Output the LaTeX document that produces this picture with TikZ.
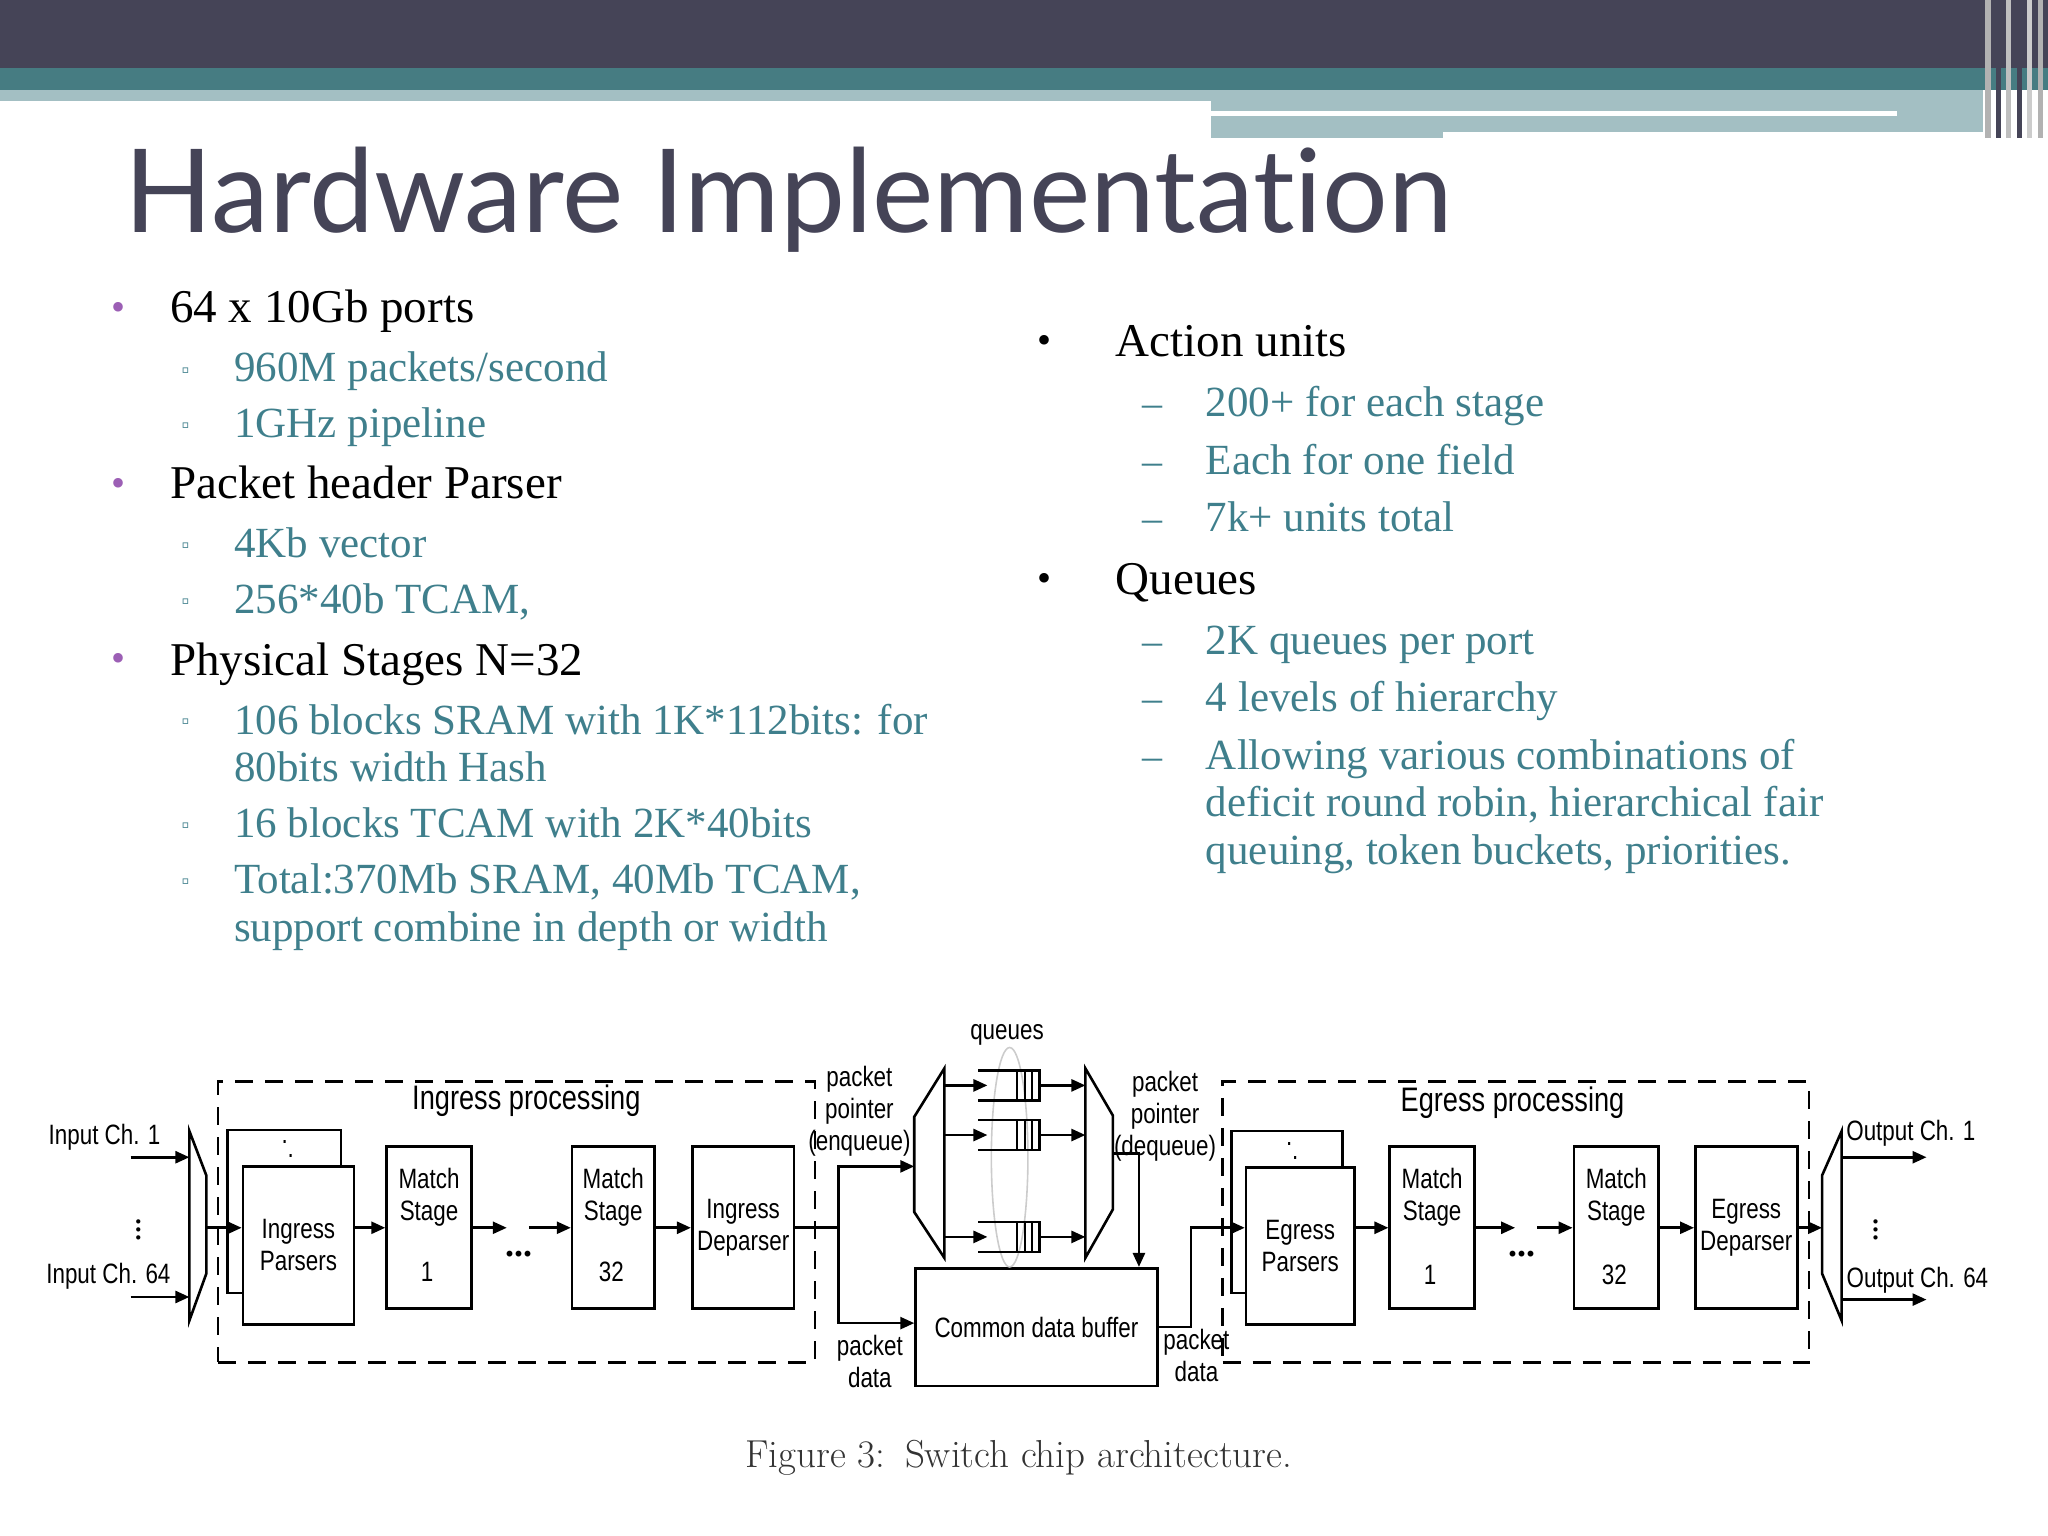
\documentclass[tikz,border=0pt]{standalone}
\usepackage{fontspec}
\setmainfont{Liberation Serif}
\newfontfamily\titlefont{Lato}[Ligatures=NoCommon]
\newfontfamily\figfont{Liberation Sans}[FakeStretch=0.8]
\usetikzlibrary{arrows.meta}
\definecolor{slatedark}{HTML}{454457}
\definecolor{tealband}{HTML}{467C82}
\definecolor{tealpale}{HTML}{A3BFC3}
\definecolor{subtext}{HTML}{3F7F8C}
\definecolor{dotpurple}{HTML}{9C5FB5}
\begin{document}
\begin{tikzpicture}[x=0.653pt, y=-0.653pt,
  main/.style={anchor=base west, inner sep=0pt, font=\fontsize{23.5}{26}\selectfont},
  sub/.style={anchor=base west, inner sep=0pt, text=subtext, font=\fontsize{21.5}{24}\selectfont},
  dot/.style={anchor=base, inner sep=0pt, text=dotpurple, font=\fontsize{20}{24}\selectfont},
  sq/.style={anchor=base, inner sep=0pt, text=subtext, font=\fontsize{11}{12}\selectfont},
  dashmark/.style={anchor=base, inner sep=0pt, text=subtext, font=\fontsize{20}{24}\selectfont},
  fig/.style={inner sep=0pt, align=center, font=\figfont\fontsize{14}{16}\selectfont},
  head/.style={fill=white, inner sep=1pt, font=\figfont\fontsize{17}{19}\selectfont},
  blk/.style={draw, line width=1.3pt, fill=white},
  ln/.style={line width=1.3pt},
  arr/.style={line width=1.3pt, -{Triangle[length=7pt,width=6pt]}},
  dbox/.style={draw, line width=1.3pt, dash pattern=on 9pt off 6pt}]
\useasboundingbox (0,0) rectangle (1568,1176);
% header bands
\fill[slatedark] (0,0) rectangle (1568,52);
\fill[tealband] (0,52) rectangle (1568,69);
\fill[tealpale] (0,69) rectangle (927,77);
\fill[tealpale] (927,69) rectangle (1518,101);
\fill[tealpale] (927,101) rectangle (1105,106);
\fill[white] (927,85) rectangle (1452,89);
\foreach \xx/\cc in {1520/gray!60,1528/slatedark,1536/gray!50,1544/slatedark,1552/gray!40,1560/gray!60}
  \fill[\cc] (\xx,0) rectangle ++(4,106);
% title
\node[anchor=base west, inner sep=0pt, text=slatedark, font=\titlefont\fontsize{58}{60}\selectfont] (title) at (95,178) {Hardware Implementation};
% left column
\node[dot] (d1) at (91,245) {•}; \node[main] (t1) at (130,247) {64 x 10Gb ports};
\node[sq] (s1) at (142,289) {▫}; \node[sub] (t1a) at (179,292) {960M packets/second};
\node[sq] (s2) at (142,331) {▫}; \node[sub] (t1b) at (179,335) {1GHz pipeline};
\node[dot] (d2) at (91,380) {•}; \node[main] (t2) at (130,382) {Packet header Parser};
\node[sq] (s3) at (142,423) {▫}; \node[sub] (t2a) at (179,427) {4Kb vector};
\node[sq] (s4) at (142,466) {▫}; \node[sub] (t2b) at (179,470) {256*40b TCAM,};
\node[dot] (d3) at (91,514) {•}; \node[main] (t3) at (130,517) {Physical Stages N=32};
\node[sq] (s5) at (142,558) {▫}; \node[sub] (t3a) at (179,562) {106 blocks SRAM with 1K*112bits: for};
\node[sub] (t3a2) at (179,598) {80bits width Hash};
\node[sq] (s6) at (142,637) {▫}; \node[sub] (t3b) at (179,641) {16 blocks TCAM with 2K*40bits};
\node[sq] (s7) at (142,680) {▫}; \node[sub] (t3c) at (179,684) {Total:370Mb SRAM, 40Mb TCAM,};
\node[sub] (t3c2) at (179,721) {support combine in depth or width};
% right column
\node[anchor=base, inner sep=0pt, font=\fontsize{20}{24}\selectfont] (e1) at (800,271) {•}; \node[main] (u1) at (854,273) {Action units};
\node[dashmark] (m1) at (882,319) {–}; \node[sub] (u1a) at (923,319) {200+ for each stage};
\node[dashmark] (m2) at (882,363) {–}; \node[sub] (u1b) at (923,363) {Each for one field};
\node[dashmark] (m3) at (882,407) {–}; \node[sub] (u1c) at (923,407) {7k+ units total};
\node[anchor=base, inner sep=0pt, font=\fontsize{20}{24}\selectfont] (e2) at (800,453) {•}; \node[main] (u2) at (854,455) {Queues};
\node[dashmark] (m4) at (882,501) {–}; \node[sub] (u2a) at (923,501) {2K queues per port};
\node[dashmark] (m5) at (882,545) {–}; \node[sub] (u2b) at (923,545) {4 levels of hierarchy};
\node[dashmark] (m6) at (882,589) {–}; \node[sub] (u2c) at (923,589) {Allowing various combinations of};
\node[sub] (u2c2) at (923,625) {deficit round robin, hierarchical fair};
\node[sub] (u2c3) at (923,662) {queuing, token buckets, priorities.};
% ---- figure ----
\node[dbox, minimum width=457*0.653pt, minimum height=215*0.653pt, anchor=north west, inner sep=0pt] (ing) at (166,827) {};
\node[dbox, minimum width=449*0.653pt, minimum height=215*0.653pt, anchor=north west, inner sep=0pt] (egr) at (935,827) {};
\node[head] (ingl) at (403,843) {Ingress processing};
\node[head] (egrl) at (1158,844) {Egress processing};
% inputs
\node[fig, anchor=base] (in1) at (80,876) {Input Ch. 1};
\node[fig, anchor=base] (in64) at (83,983) {Input Ch. 64};
\node[fig, font=\fontsize{18}{18}\selectfont] (vd1) at (106,937) {$\vdots$};
\coordinate (in1s) at (100,886); \coordinate (in1e) at (145,886);
\coordinate (in64s) at (100,993); \coordinate (in64e) at (145,993);
\draw[arr] (in1s) -- (in1e); \draw[arr] (in64s) -- (in64e);
\draw[ln] (145,866) -- (145,1011) -- (158,975) -- (158,900) -- cycle;
\coordinate (muxin) at (158,940);
% ingress blocks
\draw[blk] (174,865) rectangle (261,990);
\node[fig] at (218,880) {.\\[-9pt]\hspace{6pt}.};
\node[blk, minimum width=85*0.653pt, minimum height=121*0.653pt, anchor=north west, inner sep=0pt, fig] (ipar) at (185,892) {Ingress\\Parsers};
\node[blk, minimum width=65*0.653pt, minimum height=124*0.653pt, anchor=north west, inner sep=0pt] (ms1) at (295,877) {};
\node[fig, anchor=north] at ([yshift=-11pt]ms1.north) {Match\\Stage};
\node[fig] at (327,974) {1};
\node[blk, minimum width=63*0.653pt, minimum height=124*0.653pt, anchor=north west, inner sep=0pt] (ms32) at (437,877) {};
\node[fig, anchor=north] at ([yshift=-11pt]ms32.north) {Match\\Stage};
\node[fig] at (468,974) {32};
\node[blk, minimum width=78*0.653pt, minimum height=124*0.653pt, anchor=north west, inner sep=0pt, fig] (idep) at (529,877) {Ingress\\Deparser};
\node[fig, font=\bfseries\fontsize{18}{18}\selectfont] (idots) at (397,960) {...};
\draw[arr] (muxin) -- (ipar.west|-muxin);
\draw[arr] (ipar.east|-muxin) -- (ms1.west|-muxin);
\coordinate (ia) at (388,940); \coordinate (ib) at (405,940);
\draw[arr] (ms1.east|-muxin) -- (ia);
\draw[arr] (ib) -- (ms32.west|-muxin);
\draw[arr] (ms32.east|-muxin) -- (idep.west|-muxin);
% queues section
\draw[ln] (700,855) -- (723,818) -- (723,963) -- (700,928) -- cycle;
\draw[ln] (831,818) -- (852,854) -- (852,926) -- (831,963) -- cycle;
\node[blk, minimum width=185*0.653pt, minimum height=90*0.653pt, anchor=north west, inner sep=0pt, fig] (buf) at (700,970) {Common data buffer};
\draw[ln] (idep.east|-muxin) -- (642,940);
\draw[arr] (642,940) |- (700,893);
\draw[arr] (642,940) |- (buf.west|-0,1013);
\node[fig] (ppe) at (658,851) {packet\\pointer\\(enqueue)};
\node[fig] (pde) at (666,1042) {packet\\data};
\draw[gray!40, line width=0.8pt] (773,886) ellipse [x radius=14, y radius=84];
\node[fig] (ql) at (771,792) {queues};
\foreach \qy/\qn in {831/qa,869/qb,947/qc}{
  \draw[ln] (749,\qy-11.5) -- (796,\qy-11.5) -- (796,\qy+11.5) -- (749,\qy+11.5);
  \foreach \cx in {779,785,790} \draw[line width=1pt] (\cx,\qy-11.5) -- (\cx,\qy+11.5);
  \coordinate (\qn i) at (756,\qy);
  \draw[arr] (723,\qy) -- (\qn i);
  \draw[arr] (796,\qy) -- (831,\qy);
}
\draw[arr] (852,883) -- (872,883) -- (872,970);
\node[fig] (ppd) at (892,855) {packet\\pointer\\(dequeue)};
\node[fig] (pdd) at (916,1038) {packet\\data};
% egress blocks
\draw[blk] (943,866) rectangle (1028,990);
\node[fig] at (987,881) {.\\[-9pt]\hspace{6pt}.};
\node[blk, minimum width=83*0.653pt, minimum height=120*0.653pt, anchor=north west, inner sep=0pt, fig] (epar) at (953,893) {Egress\\Parsers};
\node[blk, minimum width=65*0.653pt, minimum height=124*0.653pt, anchor=north west, inner sep=0pt] (es1) at (1063,877) {};
\node[fig, anchor=north] at ([yshift=-11pt]es1.north) {Match\\Stage};
\node[fig] at (1095,976) {1};
\node[blk, minimum width=65*0.653pt, minimum height=124*0.653pt, anchor=north west, inner sep=0pt] (es32) at (1204,877) {};
\node[fig, anchor=north] at ([yshift=-11pt]es32.north) {Match\\Stage};
\node[fig] at (1236,976) {32};
\node[blk, minimum width=78*0.653pt, minimum height=124*0.653pt, anchor=north west, inner sep=0pt, fig] (edep) at (1297,877) {Egress\\Deparser};
\node[fig, font=\bfseries\fontsize{18}{18}\selectfont] (edots) at (1165,960) {...};
\coordinate (eline) at (0,940);
\draw[arr] (buf.east|-0,1016) -- (912,1016) |- (epar.west|-eline);
\draw[arr] (epar.east|-eline) -- (es1.west|-eline);
\coordinate (ea) at (1160,940); \coordinate (eb) at (1177,940);
\draw[arr] (es1.east|-eline) -- (ea);
\draw[arr] (eb) -- (es32.west|-eline);
\draw[arr] (es32.east|-eline) -- (edep.west|-eline);
\draw[arr] (edep.east|-eline) -- (1395,940);
% outputs
\draw[ln] (1395,900) -- (1410,866) -- (1410,1011) -- (1395,975) -- cycle;
\coordinate (o1) at (1475,886); \coordinate (o64) at (1475,995);
\draw[arr] (1410,886) -- (o1); \draw[arr] (1410,995) -- (o64);
\node[fig, anchor=base] (out1) at (1463,873) {Output Ch. 1};
\node[fig, anchor=base] (out64) at (1468,986) {Output Ch. 64};
\node[fig, font=\fontsize{18}{18}\selectfont] (vd2) at (1436,937) {$\vdots$};
% caption
\node[inner sep=0pt, text=black!80] (cap) at (780,1116) {\fontspec{Latin Modern Roman}\fontsize{19.5}{22}\selectfont Figure 3:\enspace Switch chip architecture.};
\end{tikzpicture}
\end{document}
